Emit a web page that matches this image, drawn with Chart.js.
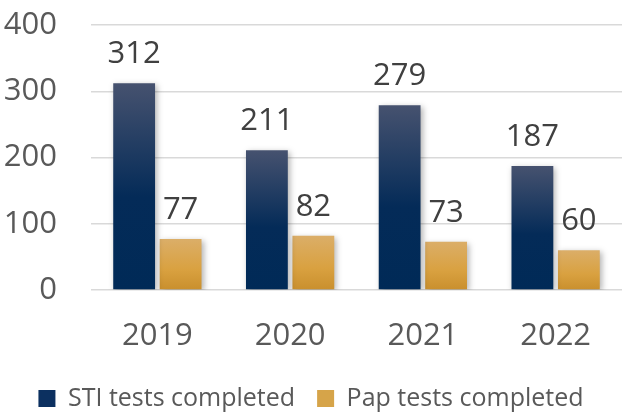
<!DOCTYPE html>
<html>
<head>
<meta charset="utf-8">
<script src="https://cdn.jsdelivr.net/npm/chart.js@4/dist/chart.umd.min.js"></script>
<style>
  html, body { margin: 0; padding: 0; background: #ffffff; }
  #wrap { width: 623px; height: 415px; }
</style>
</head>
<body>
<div id="wrap"><canvas id="c" width="623" height="415"></canvas></div>
<script>
const categories = ["2019", "2020", "2021", "2022"];
const stiTests = [312, 211, 279, 187];
const papTests = [77, 82, 73, 60];
const seriesNames = ["STI tests completed", "Pap tests completed"];
const yTicks = [0, 100, 200, 300, 400];

const FONT = "'Open Sans', 'Noto Sans', sans-serif";

function barGradient(stops) {
  return function (context) {
    const chart = context.chart;
    const area = chart.chartArea;
    if (!area || context.type !== 'data') return stops[stops.length - 1][1];
    const ys = chart.scales.y;
    const top = ys.getPixelForValue(context.parsed.y);
    const base = ys.getPixelForValue(0);
    if (!isFinite(top) || !isFinite(base) || top === base) return stops[stops.length - 1][1];
    const g = chart.ctx.createLinearGradient(0, top, 0, base);
    stops.forEach(s => g.addColorStop(s[0], s[1]));
    return g;
  };
}

const navyStops = [[0, '#46526f'], [0.55, '#042b58'], [1, '#002a57']];
const goldStops = [[0, '#dbae68'], [0.6, '#d9a140'], [1, '#c98f2d']];

const shadowPlugin = {
  id: 'barShadow',
  beforeDatasetsDraw(chart) {
    const ctx = chart.ctx;
    ctx.save();
    ctx.shadowColor = 'rgba(0,0,0,0.30)';
    ctx.shadowBlur = 6;
    ctx.shadowOffsetX = 2;
    ctx.shadowOffsetY = 2;
  },
  afterDatasetsDraw(chart) {
    chart.ctx.restore();
  }
};

const labelPlugin = {
  id: 'valueLabels',
  afterDatasetsDraw(chart) {
    const ctx = chart.ctx;
    ctx.save();
    ctx.font = "31px " + FONT;
    ctx.fillStyle = '#404040';
    ctx.textAlign = 'center';
    ctx.textBaseline = 'alphabetic';
    chart.data.datasets.forEach((ds, i) => {
      const meta = chart.getDatasetMeta(i);
      meta.data.forEach((bar, j) => {
        ctx.fillText(String(ds.data[j]), bar.x, bar.y - 20);
      });
    });
    ctx.restore();
  }
};

new Chart(document.getElementById('c'), {
  type: 'bar',
  data: {
    labels: categories,
    datasets: [
      {
        label: seriesNames[0],
        data: stiTests,
        backgroundColor: barGradient(navyStops),
        categoryPercentage: 0.70,
        barPercentage: 0.90
      },
      {
        label: seriesNames[1],
        data: papTests,
        backgroundColor: barGradient(goldStops),
        categoryPercentage: 0.70,
        barPercentage: 0.90
      }
    ]
  },
  options: {
    responsive: false,
    animation: false,
    devicePixelRatio: 1,
    layout: { padding: { top: 25, right: 1, left: 0, bottom: -6 } },
    plugins: {
      tooltip: { enabled: false },
      legend: {
        position: 'bottom',
        labels: {
          font: { family: FONT, size: 25 },
          color: '#595959',
          boxWidth: 17,
          boxHeight: 17,
          padding: 22,
          generateLabels(chart) {
            const fills = ['#0c3060', '#d6a449'];
            return chart.data.datasets.map((ds, i) => ({
              text: ds.label,
              fillStyle: fills[i],
              strokeStyle: fills[i],
              lineWidth: 0,
              hidden: false,
              datasetIndex: i,
              fontColor: '#595959'
            }));
          }
        }
      }
    },
    scales: {
      x: {
        grid: { display: false, drawTicks: false },
        border: { display: false },
        afterFit(scale) { scale.height = 74; },
        ticks: {
          font: { family: FONT, size: 31 },
          color: '#595959',
          padding: 28
        }
      },
      y: {
        min: 0,
        max: 400,
        afterBuildTicks(scale) { scale.ticks = yTicks.map(v => ({ value: v })); },
        afterFit(scale) { scale.width = 91; },
        grid: { color: '#d9d9d9', lineWidth: 1.5, drawTicks: true, tickLength: 34, tickColor: 'rgba(0,0,0,0)' },
        border: { display: false },
        ticks: {
          font: { family: FONT, size: 31 },
          color: '#595959',
          padding: 0
        }
      }
    }
  },
  plugins: [shadowPlugin, labelPlugin]
});
</script>
</body>
</html>
